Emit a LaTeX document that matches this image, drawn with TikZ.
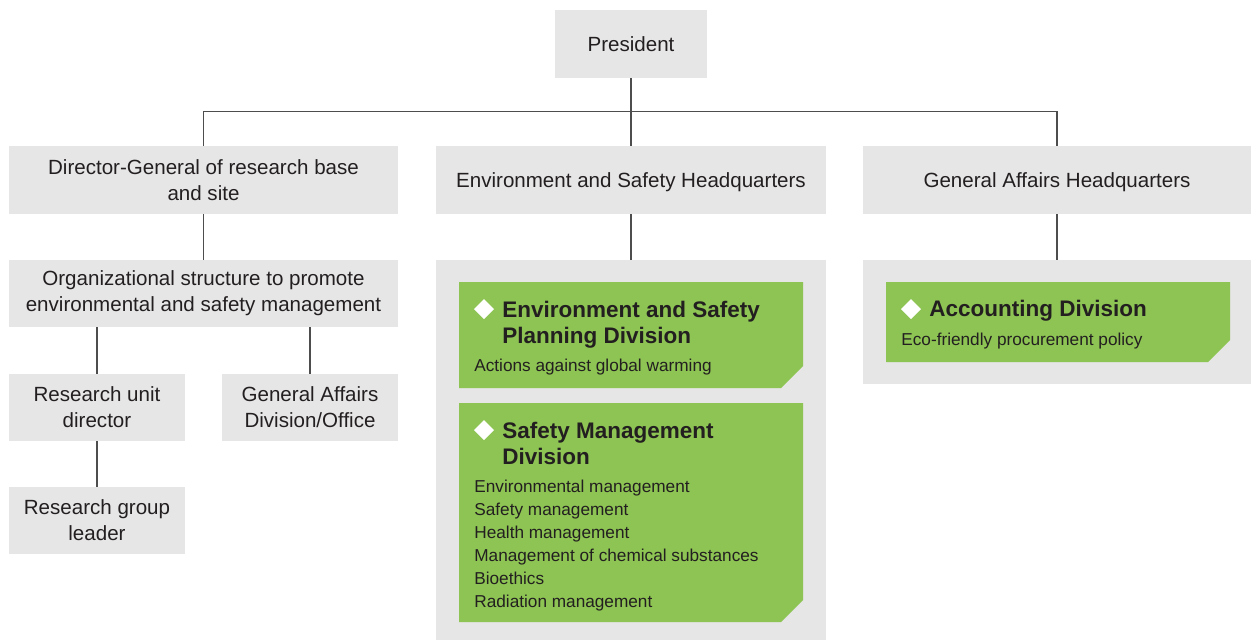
\documentclass[tikz,border=0pt]{standalone}
\usepackage{fontspec}
\setmainfont{Liberation Sans}
\definecolor{boxgray}{HTML}{E6E6E6}
\definecolor{leafgreen}{HTML}{8DC453}
\definecolor{inkdark}{HTML}{231F20}
\definecolor{linegray}{HTML}{4D4D4D}
\tikzset{
  orgbox/.style={
    fill=boxgray,
    inner sep=0pt,
    minimum height=1.36cm,
    align=center,
    text=inkdark,
    font=\fontsize{11.7}{14.7}\selectfont
  },
  oneline/.style={text height=8.4pt,text depth=0pt},
  panel/.style={fill=boxgray,inner sep=0pt},
  divhead/.style={anchor=base west,inner sep=0pt,text=inkdark,
    font=\fontsize{12.8}{14.7}\selectfont\bfseries},
  divtext/.style={anchor=base west,inner sep=0pt,text=inkdark,
    font=\fontsize{9.8}{13}\selectfont},
  orgline/.style={draw=linegray,line width=0.6pt}
}

\begin{document}
\begin{tikzpicture}[x=0.02cm,y=-0.02cm]
\useasboundingbox (0,0) rectangle (1252,640);
% top level
\node[orgbox,oneline,minimum width=3.04cm] (pres) at (631,44) {President};
\node[orgbox,minimum width=7.78cm] (dg) at (203.5,180) {Director-General of research base\\and site};
\node[orgbox,oneline,minimum width=7.8cm] (eshq) at (631,180) {Environment and Safety Headquarters};
\node[orgbox,oneline,minimum width=7.76cm] (gahq) at (1057,180) {General Affairs Headquarters};
% left branch
\node[orgbox,minimum width=7.78cm,minimum height=1.34cm] (org) at (203.5,293.5) {Organizational structure to promote\\environmental and safety management};
\node[orgbox,minimum width=3.52cm,minimum height=1.34cm] (rud) at (97,407.5) {Research unit\\director};
\node[orgbox,minimum width=3.52cm,minimum height=1.34cm] (gado) at (310,407.5) {General Affairs\\Division/Office};
\node[orgbox,minimum width=3.52cm,minimum height=1.34cm] (rgl) at (97,520.5) {Research group\\leader};
% panels
\node[panel,minimum width=7.8cm,minimum height=7.6cm] (espanel) at (631,450) {};
\node[panel,minimum width=7.76cm,minimum height=2.48cm] (gapanel) at (1057,322) {};

% connectors
\draw[orgline] (pres.south) -- (eshq.north);
\draw[orgline] (dg.north) -- ++(0,-34) -| (gahq.north);
\draw[orgline] (dg.south) -- (org.north);
\draw[orgline] (rud.north) -- (rud.north |- org.south);
\draw[orgline] (gado.north) -- (gado.north |- org.south);
\draw[orgline] (rud.south) -- (rgl.north);
\draw[orgline] (eshq.south) -- (espanel.north);
\draw[orgline] (gahq.south) -- (gapanel.north);

% green division boxes
\fill[leafgreen] (459,282) -- (803,282) -- (803,366) -- (781,388) -- (459,388) -- cycle;
\fill[leafgreen] (459,403) -- (803,403) -- (803,600) -- (781,622) -- (459,622) -- cycle;
\fill[leafgreen] (886,282) -- (1230,282) -- (1230,340) -- (1208,362) -- (886,362) -- cycle;
\fill[white] (484,299) -- (494,309) -- (484,319) -- (474,309) -- cycle;
\fill[white] (484,420) -- (494,430) -- (484,440) -- (474,430) -- cycle;
\fill[white] (911,299) -- (921,309) -- (911,319) -- (901,309) -- cycle;

% planning division
\node[divhead] (esp1) at (502,317) {Environment and Safety};
\node[divhead] (esp2) at (502,343) {Planning Division};
\node[divtext] (espt) at (474,371) {Actions against global warming};
% safety management division
\node[divhead] (smd1) at (502,438) {Safety Management};
\node[divhead] (smd2) at (502,464) {Division};
\foreach \txt [count=\i] in {Environmental management,Safety management,Health management,Management of chemical substances,Bioethics,Radiation management}
  \node[divtext] (smt\i) at (474,469+23*\i) {\txt};
% accounting division
\node[divhead] (acc) at (929,316) {Accounting Division};
\node[divtext] (acct) at (901,345) {Eco-friendly procurement policy};
\end{tikzpicture}
\end{document}
